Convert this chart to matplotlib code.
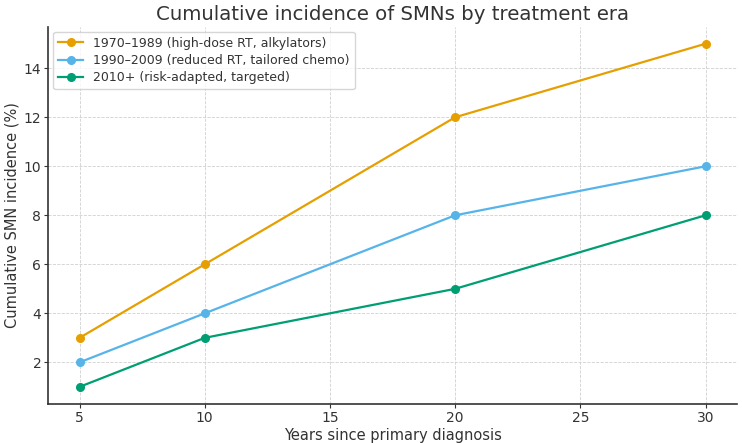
import matplotlib
matplotlib.use("Agg")
import matplotlib.pyplot as plt

years = [5, 10, 20, 30]
era_1970 = [3, 6, 12, 15]
era_1990 = [2, 4, 8, 10]
era_2010 = [1, 3, 5, 8]

labels = ["1970–1989 (high-dose RT, alkylators)",
          "1990–2009 (reduced RT, tailored chemo)",
          "2010+ (risk-adapted, targeted)"]
colors = ["#E69F00", "#56B4E9", "#009E73"]

fig, ax = plt.subplots(figsize=(7.42, 4.43), dpi=100)

for vals, lab, c in zip([era_1970, era_1990, era_2010], labels, colors):
    ax.plot(years, vals, marker="o", markersize=5.5, linewidth=1.6, color=c, label=lab)

ax.set_title("Cumulative incidence of SMNs by treatment era", fontsize=14.2, color="#333333", pad=5)
ax.set_xlabel("Years since primary diagnosis", fontsize=10.5, color="#333333", labelpad=2)
ax.set_ylabel("Cumulative SMN incidence (%)", fontsize=10.5, color="#333333", labelpad=3)

ax.grid(True, linestyle="--", linewidth=0.6, color="#d0d0d0")
ax.spines["top"].set_visible(False)
ax.spines["right"].set_visible(False)
for s in ["left", "bottom"]:
    ax.spines[s].set_color("#333333")
    ax.spines[s].set_linewidth(1.2)
ax.tick_params(labelsize=10, colors="#333333", length=3, pad=2)
ax.set_xticks([5, 10, 15, 20, 25, 30])
ax.set_yticks([2, 4, 6, 8, 10, 12, 14])

leg = ax.legend(loc="upper left", fontsize=9, frameon=True, labelspacing=0.35,
                borderaxespad=0.4)
for t in leg.get_texts():
    t.set_color("#333333")

fig.subplots_adjust(left=0.065, right=0.993, top=0.94, bottom=0.088)
fig.savefig("out.png", dpi=100)
